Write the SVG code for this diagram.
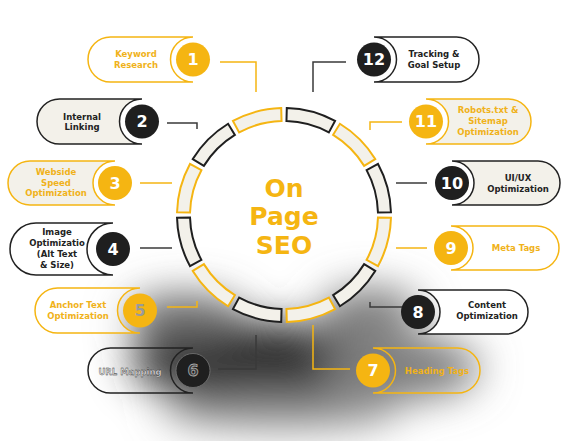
<svg xmlns="http://www.w3.org/2000/svg" width="566" height="441" viewBox="0 0 566 441">
<defs>
<style>
.seg{stroke-width:2;fill:#f3f1ea}
.sy{stroke:#f5b512}
.sd{stroke:#1f1f1f}
.pill{stroke-width:1.5}
.py{stroke:#f5b512}
.pd{stroke:#222}
.fw{fill:#fff}
.fo{fill:#f3f1ea}
.cy{fill:#f5b512}
.cd{fill:#1f1f1f}
.num{font-family:"DejaVu Sans",Verdana,sans-serif;font-weight:bold;font-size:16px;fill:#fff;text-anchor:middle}
.lbl{font-family:"DejaVu Sans",Verdana,sans-serif;font-weight:bold;font-size:8.5px;text-anchor:middle}
.ty{fill:#f0b21a}
.td{fill:#222}
.con{fill:none;stroke-width:1.5}
.ky{stroke:#f5b512}
.kd{stroke:#3a3a3a}
.title{font-family:"DejaVu Sans",Verdana,sans-serif;font-weight:bold;font-size:25px;fill:#f5b512;text-anchor:middle}
</style>
<path id="seg" d="M2.80 -106.96 A107 107 0 0 1 51.06 -94.03 L44.85 -82.61 A94 94 0 0 0 2.46 -93.97 Z"/>
<filter id="blur" x="-50%" y="-50%" width="200%" height="200%"><feGaussianBlur stdDeviation="20"/></filter>
</defs>
<rect width="566" height="441" fill="#fff"/>
<g id="smoke" filter="url(#blur)">
<ellipse cx="255" cy="362" rx="125" ry="40" fill="#2e2e2e"/>
<ellipse cx="400" cy="368" rx="80" ry="32" fill="#7a7a7a"/>
<ellipse cx="185" cy="318" rx="60" ry="24" fill="#6a6a6a"/>
<ellipse cx="370" cy="312" rx="50" ry="24" fill="#7a7a7a"/>
<ellipse cx="280" cy="410" rx="120" ry="18" fill="#8a8a8a"/>
</g>
<g id="connectors">
<path class="con ky" d="M220 62H256V92"/>
<path class="con kd" d="M167 123H197V129"/>
<path class="con ky" d="M140 183H172"/>
<path class="con kd" d="M140 248H172"/>
<path class="con ky" d="M167 307H197V301"/>
<path class="con kd" d="M218 369H256V335"/>
<path class="con ky" d="M350 369H313V325"/>
<path class="con kd" d="M402 307H370V302"/>
<path class="con ky" d="M427 248H396"/>
<path class="con kd" d="M427 183H396"/>
<path class="con ky" d="M402 122H370V130"/>
<path class="con kd" d="M346 62H313V92"/>
</g>
<g id="ring">
<use href="#seg" class="seg sd" transform="translate(284 215) rotate(0)"/>
<use href="#seg" class="seg sy" transform="translate(284 215) rotate(30)"/>
<use href="#seg" class="seg sd" transform="translate(284 215) rotate(60)"/>
<use href="#seg" class="seg sy" transform="translate(284 215) rotate(90)"/>
<use href="#seg" class="seg sd" transform="translate(284 215) rotate(120)"/>
<use href="#seg" class="seg sy" transform="translate(284 215) rotate(150)"/>
<use href="#seg" class="seg sd" transform="translate(284 215) rotate(180)"/>
<use href="#seg" class="seg sy" transform="translate(284 215) rotate(210)"/>
<use href="#seg" class="seg sd" transform="translate(284 215) rotate(240)"/>
<use href="#seg" class="seg sy" transform="translate(284 215) rotate(270)"/>
<use href="#seg" class="seg sd" transform="translate(284 215) rotate(300)"/>
<use href="#seg" class="seg sy" transform="translate(284 215) rotate(330)"/>
</g>
<g id="center">
<text class="title" x="284" y="197">On</text>
<text class="title" x="284" y="225">Page</text>
<text class="title" x="284" y="254">SEO</text>
</g>
<g id="node1">
<path class="pill py fw" d="M193 37H110.5A22.5 22.5 0 0 0 110.5 82H193A22.5 22.5 0 0 1 193 37Z"/>
<circle class="cy" cx="193" cy="59.5" r="17"/>
<text class="num" x="193" y="65.3">1</text>
<text class="lbl ty" x="136" y="57">Keyword</text>
<text class="lbl ty" x="136" y="67.5">Research</text>
</g>
<g id="node2">
<path class="pill pd fo" d="M142 99H59.5A22.5 22.5 0 0 0 59.5 144H142A22.5 22.5 0 0 1 142 99Z"/>
<circle class="cd" cx="142" cy="121.5" r="17"/>
<text class="num" x="142" y="127.3">2</text>
<text class="lbl td" x="82" y="119.5">Internal</text>
<text class="lbl td" x="82" y="130">Linking</text>
</g>
<g id="node3">
<path class="pill py fo" d="M115 161H30A22 22 0 0 0 30 205H115A22 22 0 0 1 115 161Z"/>
<circle class="cy" cx="115" cy="183" r="17"/>
<text class="num" x="115" y="188.8">3</text>
<text class="lbl ty" x="56" y="175">Webside</text>
<text class="lbl ty" x="56" y="185.5">Speed</text>
<text class="lbl ty" x="56" y="196">Optimization</text>
</g>
<g id="node4">
<path class="pill pd fw" d="M113 223H36A26 26 0 0 0 36 275H113A26 26 0 0 1 113 223Z"/>
<circle class="cd" cx="113" cy="249" r="17"/>
<text class="num" x="113" y="254.8">4</text>
<text class="lbl td" x="57" y="235">Image</text>
<text class="lbl td" x="57" y="246">Optimizatio</text>
<text class="lbl td" x="57" y="257">(Alt Text</text>
<text class="lbl td" x="57" y="268">&amp; Size)</text>
</g>
<g id="node5">
<path class="pill py" fill="#fff" fill-opacity="0.45" d="M140 288H57.5A22.5 22.5 0 0 0 57.5 333H140A22.5 22.5 0 0 1 140 288Z"/>
<circle class="cy" cx="140" cy="310.5" r="17"/>
<text class="num" x="140" y="316.3" style="fill:#9a9a9a">5</text>
<text class="lbl ty" x="78" y="308">Anchor Text</text>
<text class="lbl ty" x="78" y="319">Optimization</text>
</g>
<g id="node6">
<path class="pill pd" fill="none" d="M193 348H110.5A22.5 22.5 0 0 0 110.5 393H193A22.5 22.5 0 0 1 193 348Z"/>
<circle class="cd" cx="193" cy="370.5" r="17" stroke="#777" stroke-width="0.8"/>
<text class="num" x="193" y="376.3" style="fill:#3a3a3a;stroke:#aaa;stroke-width:0.8">6</text>
<text class="lbl" x="130" y="375" style="fill:#ddd;stroke:#222;stroke-width:0.3">URL Mapping</text>
</g>
<g id="node7">
<path class="pill py" fill="none" d="M373 348H457.5A22.5 22.5 0 0 1 457.5 393H373A22.5 22.5 0 0 0 373 348Z"/>
<circle class="cy" cx="373" cy="370.5" r="17"/>
<text class="num" x="373" y="376.3">7</text>
<text class="lbl ty" x="437" y="374">Heading Tags</text>
</g>
<g id="node8">
<path class="pill pd fw" d="M418 290H506A22 22 0 0 1 506 334H418A22 22 0 0 0 418 290Z"/>
<circle class="cd" cx="418" cy="312" r="17"/>
<text class="num" x="418" y="317.8">8</text>
<text class="lbl td" x="487" y="308">Content</text>
<text class="lbl td" x="487" y="319">Optimization</text>
</g>
<g id="node9">
<path class="pill py fw" d="M451 226H537A22 22 0 0 1 537 270H451A22 22 0 0 0 451 226Z"/>
<circle class="cy" cx="451" cy="248" r="17"/>
<text class="num" x="451" y="253.8">9</text>
<text class="lbl ty" x="516" y="251">Meta Tags</text>
</g>
<g id="node10">
<path class="pill pd fo" d="M452 161H538A22 22 0 0 1 538 205H452A22 22 0 0 0 452 161Z"/>
<circle class="cd" cx="452" cy="183" r="17"/>
<text class="num" x="452" y="188.8">10</text>
<text class="lbl td" x="518" y="181">UI/UX</text>
<text class="lbl td" x="518" y="192">Optimization</text>
</g>
<g id="node11">
<path class="pill py fo" d="M426 99H508.5A22.5 22.5 0 0 1 508.5 144H426A22.5 22.5 0 0 0 426 99Z"/>
<circle class="cy" cx="426" cy="121.5" r="17"/>
<text class="num" x="426" y="127.3">11</text>
<text class="lbl ty" x="488" y="113">Robots.txt &amp;</text>
<text class="lbl ty" x="488" y="124">Sitemap</text>
<text class="lbl ty" x="488" y="134.5">Optimization</text>
</g>
<g id="node12">
<path class="pill pd fw" d="M374 37H456.5A22.5 22.5 0 0 1 456.5 82H374A22.5 22.5 0 0 0 374 37Z"/>
<circle class="cd" cx="374" cy="59.5" r="17"/>
<text class="num" x="374" y="65.3">12</text>
<text class="lbl td" x="434" y="57">Tracking &amp;</text>
<text class="lbl td" x="434" y="67.5">Goal Setup</text>
</g>
</svg>
